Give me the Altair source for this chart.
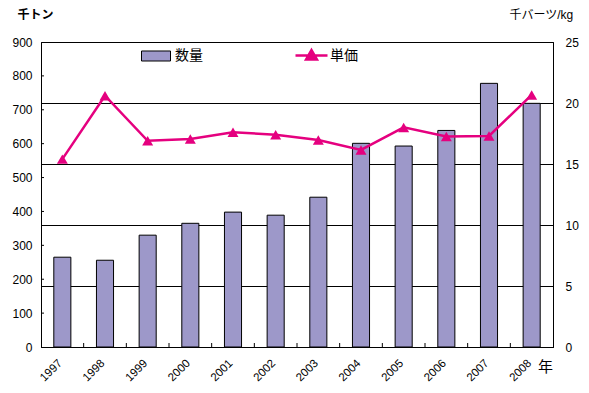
import altair as alt
import pandas as pd

# ---- data ----
years = [str(y) for y in range(1997, 2009)]
quantity = [265, 256, 330, 365, 398, 389, 442, 601, 593, 639, 778, 719]
price = [15.4, 20.6, 16.9, 17.05, 17.6, 17.4, 16.97, 16.15, 18.0, 17.25, 17.3, 20.66]
left_tick_values = [0, 100, 200, 300, 400, 500, 600, 700, 800, 900]
right_tick_values = [0, 5, 10, 15, 20, 25]
qty_label = "数量"
price_label = "単価"

FONT = "Liberation Sans, Noto Sans CJK JP, sans-serif"
BAR_FILL = "#9D98C9"
PINK = "#E5007F"
W, H = 512, 305
STEP = W / len(years)

df = pd.DataFrame({"year": years, "qty": quantity, "price": price})
df["s"] = qty_label
df["t"] = price_label

x_enc = alt.X(
    "year:O",
    sort=years,
    scale=alt.Scale(domain=years, paddingInner=0.6, paddingOuter=0.3),
    axis=alt.Axis(
        labelAngle=-45, ticks=False, domainColor="black", labelFontSize=11.5,
        labelColor="black", labelFont=FONT, labelPadding=10, labelOffset=-6,
        title="年", titleAngle=0, titleX=504, titleY=19, titleFontSize=15,
        titleFontWeight="normal", titleBaseline="middle", titleAlign="center",
        titleFont=FONT, titleColor="black",
    ),
)

left_scale = alt.Scale(domain=[0, 900], nice=False)
left_axis = alt.Axis(
    values=left_tick_values, grid=False, ticks=False, labelPadding=9,
    labelFontSize=12, labelFont=FONT, labelColor="black", domainColor="black",
    labelOverlap=False,
    title="千トン", titleAngle=0, titleX=-24, titleY=-28, titleAlign="left",
    titleBaseline="middle", titleFontWeight="bold", titleFontSize=12,
    titleFont=FONT, titleColor="black",
)

bars = alt.Chart(df).mark_bar(stroke="black", strokeWidth=1).encode(
    x=x_enc,
    y=alt.Y("qty:Q", scale=left_scale, axis=left_axis),
    color=alt.Color(
        "s:N",
        scale=alt.Scale(domain=[qty_label], range=[BAR_FILL]),
        legend=alt.Legend(
            orient="none", legendX=100, legendY=-1, title=None, padding=0,
            symbolType="M-1,-0.345H1V0.345H-1Z", symbolSize=841,
            symbolStrokeColor="black", symbolStrokeWidth=1, symbolOpacity=1,
            labelFontSize=14, labelFont=FONT, labelColor="black", labelOffset=4,
        ),
    ),
)

xticks = alt.Chart(pd.DataFrame({"year": years[1:]})).mark_rule(
    color="black", strokeWidth=1, xOffset=-0.3 * STEP
).encode(
    x=alt.X("year:O", bandPosition=0),
    y=alt.value(H - 4),
    y2=alt.value(H),
)

yticks = alt.Chart(pd.DataFrame({"qty": left_tick_values[1:-1]})).mark_rule(
    color="black", strokeWidth=1
).encode(
    y=alt.Y("qty:Q", scale=left_scale, axis=left_axis),
    x=alt.value(0),
    x2=alt.value(3),
)

left = alt.layer(bars, xticks, yticks)

y_right = alt.Y(
    "price:Q",
    scale=alt.Scale(domain=[0, 25], nice=False),
    axis=alt.Axis(
        orient="right", values=right_tick_values, grid=True, gridColor="black",
        gridOpacity=1, gridWidth=1, ticks=False, labelPadding=12, labelFontSize=12,
        labelFont=FONT, labelColor="black", domainColor="black",
        title="千バーツ/kg", titleAngle=0, titleX=-44, titleY=-28, titleAlign="left",
        titleBaseline="middle", titleFontWeight="normal", titleFontSize=12,
        titleFont=FONT, titleColor="black",
    ),
)

line = alt.Chart(df).mark_line(strokeWidth=2.5).encode(
    x=alt.X("year:O", sort=years),
    y=y_right,
    stroke=alt.Stroke(
        "t:N",
        scale=alt.Scale(domain=[price_label], range=[PINK]),
        legend=alt.Legend(
            orient="none", legendX=253, legendY=-4, title=None, padding=0,
            symbolType="M-1,0H1M0,-0.34L0.34,0.25L-0.34,0.25Z", symbolSize=1024,
            symbolFillColor=PINK, symbolStrokeWidth=2.5, symbolOpacity=1,
            labelFontSize=14, labelFont=FONT, labelColor="black", labelOffset=1,
        ),
    ),
)

points = alt.Chart(df).mark_point(
    shape="triangle-up", filled=True, size=120, opacity=1, color=PINK
).encode(
    x=alt.X("year:O", sort=years),
    y=alt.Y("price:Q"),
)

right = alt.layer(line, points)

chart = (
    alt.layer(left, right)
    .resolve_scale(y="independent")
    .properties(
        width=W,
        height=H,
        padding={"left": 33, "top": 34, "right": 28, "bottom": 38},
        autosize=alt.AutoSizeParams(type="none"),
        background="white",
    )
    .configure_view(stroke="black", strokeWidth=1)
)

chart.save("out.html", embed_options={"renderer": "svg", "actions": False})
